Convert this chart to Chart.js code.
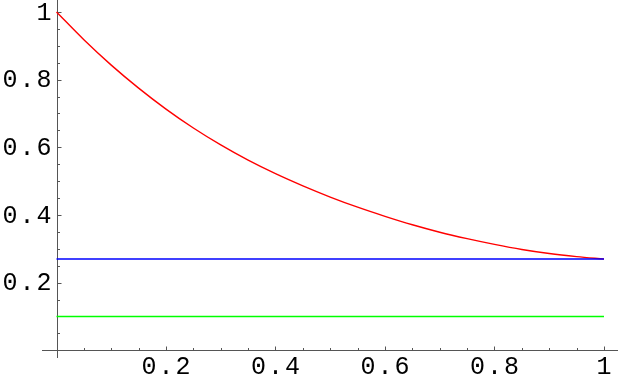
<!DOCTYPE html>
<html>
<head>
<meta charset="utf-8">
<script src="https://cdn.jsdelivr.net/npm/chart.js@4/dist/chart.umd.min.js"></script>
<style>
  html, body { margin: 0; padding: 0; background: #fff; }
  canvas { display: block; }
</style>
</head>
<body>
<canvas id="plot" width="619" height="382"></canvas>
<script>
// values
const curveX = [0, 0.05, 0.1, 0.15, 0.2, 0.25, 0.3, 0.35, 0.4, 0.45, 0.5, 0.55, 0.6, 0.65, 0.7, 0.75, 0.8, 0.85, 0.9, 0.95, 1];
const curveY = [1, 0.918, 0.843, 0.775, 0.713, 0.657, 0.607, 0.562, 0.522, 0.486, 0.453, 0.423, 0.396, 0.371, 0.349, 0.330, 0.313, 0.298, 0.286, 0.277, 0.270];
const flatX = [0, 1];
const blueY = [0.27, 0.27];
const greenY = [0.1, 0.1];

const xTicks = [0.2, 0.4, 0.6, 0.8, 1];
const yTicks = [0.2, 0.4, 0.6, 0.8, 1];
const xTickLabels = ['0.2', '0.4', '0.6', '0.8', '1'];
const yTickLabels = ['0.2', '0.4', '0.6', '0.8', '1'];
const minorStep = 0.05;

function pts(xs, ys) {
  return xs.map((x, i) => ({ x: x, y: ys[i] }));
}

// Mathematica-style axes crossing at the origin
const axesPlugin = {
  id: 'axes',
  beforeDatasetsDraw(chart) {
    const ctx = chart.ctx;
    const xs = chart.scales.x, ys = chart.scales.y;
    const area = chart.chartArea;
    const x0 = Math.round(xs.getPixelForValue(0)) + 0.5;
    const y0 = Math.round(ys.getPixelForValue(0)) + 0.5;
    ctx.save();
    ctx.strokeStyle = '#555';
    ctx.lineWidth = 1;
    ctx.beginPath();
    ctx.moveTo(area.left, y0); ctx.lineTo(area.right, y0);
    ctx.moveTo(x0, area.top); ctx.lineTo(x0, area.bottom);
    ctx.stroke();

    // ticks
    ctx.beginPath();
    for (let i = 1; i <= 20; i++) {
      const v = i * minorStep;
      const major = i % 4 === 0;
      const len = major ? 4 : 2.5;
      const px = Math.round(xs.getPixelForValue(v)) + 0.5;
      ctx.moveTo(px, y0); ctx.lineTo(px, y0 - len);
      const py = Math.round(ys.getPixelForValue(v)) + 0.5;
      ctx.moveTo(x0, py); ctx.lineTo(x0 + len, py);
    }
    ctx.stroke();

    // labels
    ctx.fillStyle = '#000';
    ctx.font = '25px "Liberation Mono", "DejaVu Sans Mono", monospace';
    ctx.letterSpacing = '2px';
    ctx.textBaseline = 'middle';
    ctx.textAlign = 'right';
    yTicks.forEach((v, i) => {
      ctx.fillText(yTickLabels[i], x0 - 4, ys.getPixelForValue(v) + 1);
    });
    ctx.textAlign = 'center';
    xTicks.forEach((v, i) => {
      ctx.fillText(xTickLabels[i], xs.getPixelForValue(v) + 1, y0 + 17);
    });
    ctx.restore();
  }
};

new Chart(document.getElementById('plot').getContext('2d'), {
  type: 'scatter',
  data: {
    datasets: [
      { data: pts(flatX, blueY), borderColor: '#0000ff', borderWidth: 1.4, showLine: true, pointRadius: 0 },
      { data: pts(curveX, curveY), borderColor: '#ff0000', borderWidth: 1.4, showLine: true, pointRadius: 0, cubicInterpolationMode: 'monotone' },
      { data: pts(flatX, greenY), borderColor: '#00ff00', borderWidth: 1.4, showLine: true, pointRadius: 0 }
    ]
  },
  options: {
    responsive: false,
    animation: false,
    devicePixelRatio: 1,
    layout: { padding: { left: 42, right: 1, top: 0, bottom: 24 } },
    plugins: { legend: { display: false }, tooltip: { enabled: false } },
    scales: {
      x: { type: 'linear', display: false, min: -0.0265, max: 1.0256 },
      y: { type: 'linear', display: false, min: -0.0228, max: 1.0355 }
    }
  },
  plugins: [axesPlugin]
});
</script>
</body>
</html>
